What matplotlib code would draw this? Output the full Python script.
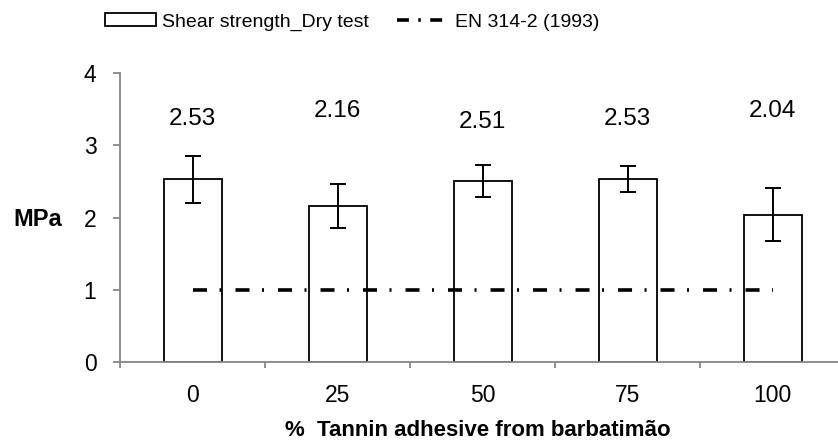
import matplotlib
matplotlib.use("Agg")
import matplotlib.pyplot as plt
from matplotlib.lines import Line2D
from matplotlib.patches import Rectangle
import numpy as np

plt.rcParams['font.family'] = ['Liberation Sans', 'DejaVu Sans']

categories = ["0", "25", "50", "75", "100"]
shear_strength = [2.53, 2.16, 2.51, 2.53, 2.04]
shear_err = [0.33, 0.30, 0.22, 0.18, 0.37]
label_text = ["2.53", "2.16", "2.51", "2.53", "2.04"]
label_y = [3.37, 3.48, 3.33, 3.37, 3.48]
en_limit = [1.0, 1.0, 1.0, 1.0, 1.0]
y_ticks = [0, 1, 2, 3, 4]

W, H = 838, 441
fig = plt.figure(figsize=(W / 100, H / 100), dpi=100)
ax = fig.add_axes([120 / W, (H - 362) / H, 725 / W, (362 - 73.3) / H])

x = np.arange(len(categories))
gray = '#868686'

ax.bar(x, shear_strength, width=0.4, color='white', edgecolor='black', linewidth=1.3,
       yerr=shear_err, error_kw=dict(ecolor='black', elinewidth=1.4, capsize=5.5, capthick=1.4),
       zorder=1)

ax.plot(x, en_limit, color='black', linewidth=2.6,
        linestyle=(0, (3.88, 3.46, 0.55, 3.88)), dash_capstyle='butt', zorder=3)

for xi, t, yy in zip(x, label_text, label_y):
    ax.text(xi, yy, t, ha='center', va='center', fontsize=17.5, color='black')

ax.set_xlim(-0.5, 4.5)
ax.set_ylim(0, 4)
ax.set_yticks(y_ticks)
ax.set_yticklabels([str(v) for v in y_ticks])
ax.set_xticks(x)
ax.set_xticklabels(categories)
ax.set_xticks(np.arange(-0.5, 4.6, 1.0), minor=True)

for s in ['top', 'right']:
    ax.spines[s].set_visible(False)
for s in ['left', 'bottom']:
    ax.spines[s].set_color(gray)
    ax.spines[s].set_linewidth(1.3)

ax.tick_params(axis='y', direction='out', length=5, width=1.3, color=gray, labelsize=16.5, pad=12)
ax.tick_params(axis='x', which='major', length=0, labelsize=16.5, pad=16)
ax.tick_params(axis='x', which='minor', direction='out', length=4.5, width=1.3, color=gray)

ax.set_ylabel("MPa", fontsize=17, fontweight='bold', rotation=0, ha='center', va='center')
ax.yaxis.set_label_coords((38 - 120) / 725, (362 - 219) / 288.7)
ax.set_xlabel("% \u00a0Tannin adhesive from barbatimão", fontsize=16, fontweight='bold', ha='center', va='center')
ax.xaxis.set_label_coords((478 - 120) / 725, (362 - 430) / 288.7)

h1 = Rectangle((0, 0), 1, 1, facecolor='white', edgecolor='black', linewidth=1.3)
h2 = Line2D([0], [0], color='black', linewidth=2.6, linestyle=(0, (3.3, 2.6, 0.7, 2.6)),
            dash_capstyle='butt')
fig.legend([h1, h2], ["Shear strength_Dry test", "EN 314-2 (1993)"],
           loc='center left', bbox_to_anchor=(105 / W, 1 - 22 / H), ncol=2, frameon=False,
           fontsize=14, handlelength=2.6, handleheight=0.65, handletextpad=0.35,
           columnspacing=1.45, borderpad=0, borderaxespad=0)

fig.savefig("out.png", dpi=100)
